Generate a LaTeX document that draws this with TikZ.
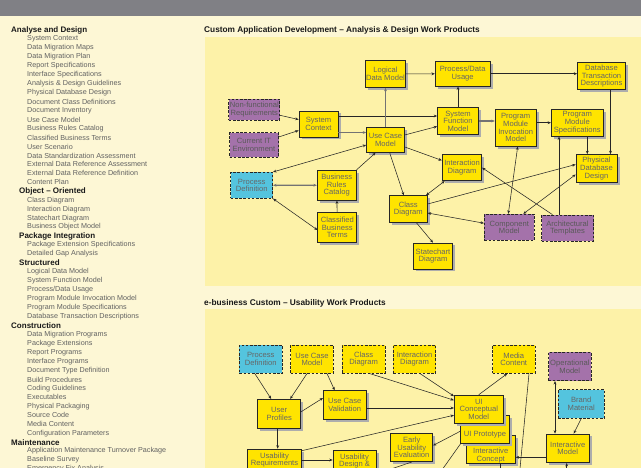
\documentclass[tikz,border=0pt]{standalone}
\usepackage{fontspec}
\setmainfont{Liberation Sans}
\usetikzlibrary{arrows.meta,shadows}

\definecolor{bargray}{RGB}{128,128,133}
\definecolor{pagecream}{RGB}{253,247,213}
\definecolor{panelyellow}{RGB}{253,242,168}
\definecolor{wpyellow}{RGB}{255,228,0}
\definecolor{wppurple}{RGB}{164,114,170}
\definecolor{wpcyan}{RGB}{84,196,222}

\tikzset{
  >={Stealth[length=3.4pt,width=2.8pt]},
  box/.style={draw=black!85, line width=0.7pt, align=center, text=black!60, inner sep=0.5pt,
              font=\fontsize{7.6}{7.6}\selectfont},
  wp/.style={box, fill=wpyellow, drop shadow={shadow xshift=2.5pt, shadow yshift=-2.5pt, fill=black!32, opacity=1}},
  extbox/.style={box, dash pattern=on 2.6pt off 1.6pt},
  extyellow/.style={extbox, fill=wpyellow},
  extpurple/.style={extbox, fill=wppurple, text=black!65},
  extcyan/.style={extbox, fill=wpcyan},
  link/.style={draw=black!85, line width=0.55pt},
  heavy/.style={draw=black!55, line width=1.3pt},
  listhead/.style={anchor=west, inner sep=0pt, font=\fontsize{8}{9}\selectfont\bfseries, text=black!90},
  listitem/.style={anchor=west, inner sep=0pt, font=\fontsize{7.2}{9}\selectfont, text=black!62},
  entry/.code={\ifnum#1=2 \pgfkeysalso{/tikz/listitem}\else\pgfkeysalso{/tikz/listhead}\fi},
  paneltitle/.style={anchor=west, inner sep=0pt, font=\fontsize{8.3}{9}\selectfont\bfseries, text=black!90},
}

\begin{document}
\begin{tikzpicture}[x=1pt,y=-1pt]
\useasboundingbox (0,0) rectangle (641,468);
\clip (0,0) rectangle (641,468);
\fill[pagecream] (0,0) rectangle (641,468); % page
\fill[bargray] (0,0) rectangle (641,16); % top bar
\fill[panelyellow] (205,37) rectangle (641,286.5); % panel 1
\fill[panelyellow] (205,309) rectangle (641,470); % panel 2

% work product list
\foreach \lvl/\txt [count=\n from 0] in {0/Analyse and Design, 2/System Context,
  2/Data Migration Maps, 2/Data Migration Plan, 2/Report Specifications,
  2/Interface Specifications, 2/Analysis \& Design Guidelines, 2/Physical Database Design,
  2/Document Class Definitions, 2/Document Inventory, 2/Use Case Model,
  2/Business Rules Catalog, 2/Classified Business Terms, 2/User Scenario,
  2/Data Standardization Assessment, 2/External Data Reference Assessment,
  2/External Data Reference Definition, 2/Content Plan, 1/Object -- Oriented,
  2/Class Diagram, 2/Interaction Diagram, 2/Statechart Diagram, 2/Business Object Model,
  1/Package Integration, 2/Package Extension Specifications, 2/Detailed Gap Analysis,
  1/Structured, 2/Logical Data Model, 2/System Function Model, 2/{Process/Data Usage},
  2/Program Module Invocation Model, 2/Program Module Specifications,
  2/Database Transaction Descriptions, 0/Construction, 2/Data Migration Programs,
  2/Package Extensions, 2/Report Programs, 2/Interface Programs,
  2/Document Type Definition, 2/Build Procedures, 2/Coding Guidelines, 2/Executables,
  2/Physical Packaging, 2/Source Code, 2/Media Content, 2/Configuration Parameters,
  0/Maintenance, 2/Application Maintenance Turnover Package, 2/Baseline Survey,
  2/Emergency Fix Analysis}
  \node[entry=\lvl] (lst\n) at ({11+8*\lvl},{30+8.96*\n}) {\txt};

% panel titles
\node[paneltitle] (ttlad) at (204,30) {Custom Application Development -- Analysis \& Design Work Products};
\node[paneltitle] (ttleb) at (204,303.3) {e-business Custom -- Usability Work Products};

% analysis & design work products
\node[wp,minimum width=40,minimum height=27] (ldm) at (385.5,74) {Logical\\Data Model};
\node[wp,minimum width=55,minimum height=25] (pdu) at (462.7,73.7) {Process/Data\\Usage};
\node[wp,minimum width=48,minimum height=27] (dtd) at (601.5,76.3) {Database\\Transaction\\Descriptions};
\node[extpurple,minimum width=51,minimum height=21] (nfr) at (254.3,109.5) {Non-functional\\Requirements};
\node[wp,minimum width=39,minimum height=26] (sc) at (318.5,124) {System\\Context};
\node[extpurple,minimum width=49,minimum height=24.5] (cit) at (254,145) {Current IT\\Environment};
\node[wp,minimum width=38,minimum height=25] (ucm) at (385.5,140) {Use Case\\Model};
\node[wp,minimum width=41,minimum height=27] (sfm) at (458,121) {System\\Function\\Model};
\node[wp,minimum width=41,minimum height=37] (pmim) at (515.7,127.7) {Program\\Module\\Invocation\\Model};
\node[wp,minimum width=52,minimum height=27] (pms) at (577.3,122.7) {Program\\Module\\Specifications};
\node[wp,minimum width=41,minimum height=28] (pdd) at (596.5,168.5) {Physical\\Database\\Design};
\node[wp,minimum width=39.5,minimum height=26] (intd) at (462,167.7) {Interaction\\Diagram};
\node[wp,minimum width=38,minimum height=26.5] (cd) at (408.3,209) {Class\\Diagram};
\node[extcyan,minimum width=42,minimum height=26] (pd) at (251.7,185.3) {Process\\Definition};
\node[wp,minimum width=39,minimum height=30] (brc) at (336.7,185.2) {Business\\Rules\\Catalog};
\node[wp,minimum width=39,minimum height=30] (cbt) at (337.3,227.5) {Classified\\Business\\Terms};
\node[wp,minimum width=39.5,minimum height=26] (std) at (433,256) {Statechart\\Diagram};
\node[extpurple,minimum width=50,minimum height=26] (cm) at (509.3,227.2) {Component\\Model};
\node[extpurple,minimum width=52,minimum height=26] (arct) at (567.5,228) {Architectural\\Templates};

\draw[link,->] (nfr) -- (sc);
\draw[link,->] (cit) -- (sc);
\draw[heavy,->] ([yshift=-8.5pt]sc.east) -- ([yshift=-8.5pt]sc.east -| ucm.west);
\draw[link,->] ([yshift=8pt]sc.east) -- ([yshift=8pt]sc.east -| sfm.west);
\draw[heavy,->] (ucm) -- (ldm);
\draw[link,->] (ldm) -- (pdu);
\draw[link,->] (pdu.east) -- (pdu.east -| dtd.west);
\draw[link,->] (sfm) -- (sfm |- pdu.south);
\draw[link,->] (ucm) -- (sfm);
\draw[heavy,->] (sfm.east) -- (sfm.east -| pmim.west);
\draw[link,->] (pms.west -| pmim.east) -- (pms.west);
\draw[link,->] ([xshift=10pt]pms.south) -- ([xshift=10pt]pms.south |- pdd.north);
\draw[link,->] ([xshift=9pt]dtd.south) -- ([xshift=9pt]dtd.south |- pdd.north);
\draw[link,->] (ucm) -- (intd);
\draw[link,->] (ucm) -- (cd);
\draw[link,<->] (intd) -- (cd);
\draw[link,->] ([yshift=5pt]cd.east) -- ([yshift=4pt]pdd.west);
\draw[link,<->] ([yshift=-4pt]cd.east) -- ([yshift=4pt]cm.west);
\draw[link,->] ([xshift=8pt]cd.south) -- (std.north);
\draw[link,<->] ([xshift=-1pt]cm.north) -- ([xshift=2pt]pmim.south);
\draw[link,<->] ([xshift=14pt]cm.north) -- ([yshift=-6pt]pdd.west);
\draw[link,->] ([xshift=-15pt]arct.north) -- (intd.east);
\draw[link,->] ([xshift=-8.5pt]arct.north) -- ([xshift=-8.5pt]arct.north |- pms.south);
\draw[link,<->] (pd.north east) -- ([yshift=-5pt]ucm.west);
\draw[heavy,<->] (pd) -- (brc);
\draw[link,<->] (pd.south east) -- ([yshift=-2.5pt]cbt.west);
\draw[link,->] (cbt) -- (brc);
\draw[link,->] (brc.north east) -- ([xshift=-10pt]ucm.south);

% usability work products
\node[extcyan,minimum width=43,minimum height=28] (pd2) at (260.8,359.2) {Process\\Definition};
\node[extyellow,minimum width=42.7,minimum height=28] (ucm2) at (312,359.2) {Use Case\\Model};
\node[extyellow,minimum width=42.7,minimum height=28] (cd2) at (363.7,359.2) {Class\\Diagram};
\node[extyellow,minimum width=42.4,minimum height=28] (intd2) at (414.5,359.2) {Interaction\\Diagram};
\node[extyellow,minimum width=42.3,minimum height=28] (mc) at (513.8,359.2) {Media\\Content};
\node[extpurple,minimum width=42.3,minimum height=28.4] (om) at (569.8,366.5) {Operational\\Model};
\node[extcyan,minimum width=46.3,minimum height=28.6] (bm) at (581.2,404) {Brand\\Material};
\node[wp,minimum width=43,minimum height=29] (up) at (279.2,413.8) {User\\Profiles};
\node[wp,minimum width=42.7,minimum height=28.6] (ucv) at (344.7,405) {Use Case\\Validation};
\node[wp,minimum width=49.3,minimum height=28,text height=22.6pt,text depth=0pt] (ic) at (490.7,449.7) {Interactive\\Concept};
\node[wp,minimum width=48.6,minimum height=28,text height=14pt,text depth=0pt] (uip) at (485,429.7) {UI Prototype};
\node[wp,minimum width=49,minimum height=28.3] (uicm) at (478.8,409.2) {UI\\Conceptual\\Model};
\node[wp,minimum width=42.7,minimum height=28.7] (im) at (567.7,448.3) {Interactive\\Model};
\node[wp,minimum width=42,minimum height=28.4] (eue) at (411.7,447.5) {Early\\Usability\\Evaluation};
\node[wp,minimum width=54.4,minimum height=22] (ur) at (274.5,460) {Usability\\Requirements};
\node[wp,minimum width=43,minimum height=22] (ud) at (354.5,461) {Usability\\Design \&};

\coordinate (mcout) at (519.3,476);
\coordinate (uipout) at (437.7,476);
\coordinate (icout) at (500,476);
\coordinate (euein) at (370,476);
\coordinate (imin) at (566.7,476);

\draw[link,->] ([xshift=-6pt]pd2.south) -- ([xshift=-8pt]up.north);
\draw[link,->] ([xshift=-5pt]ucm2.south) -- ([xshift=11pt]up.north);
\draw[link,->] ([xshift=15pt]ucm2.south) -- ([xshift=-10pt]ucv.north);
\draw[link,->] ([yshift=2pt]up.east) -- ([yshift=7pt]ucv.west);
\draw[link,->] ([xshift=-1.5pt]up.south) -- ([xshift=-1.5pt]up.south |- ur.north);
\draw[link,->] ([yshift=-3pt]ucv.east) -- ([yshift=-3pt]ucv.east -| uicm.west);
\draw[link,->] ([xshift=6pt]cd2.south) -- ([yshift=9pt]uicm.west);
\draw[link,->] ([xshift=5.5pt]intd2.south) -- ([yshift=13pt]uicm.west);
\draw[link,->] ([yshift=-2pt]ur.north east) -- ([yshift=-6pt]uicm.west);
\draw[link,->] (uicm.north) -- ([xshift=-6.5pt]mc.south);
\draw[link,->] (ur.east) -- (ur.east -| ud.west);
\draw[link,->] ([yshift=-1.5pt]uip.west) -- ([yshift=2pt]eue.east);
\draw[link,->] ([yshift=-9pt]im.west) -- ([yshift=-9pt]im.west -| ic.east);
\draw[link,<->] ([xshift=-14.8pt]om.south) -- ([xshift=-14.8pt]om.south |- im.north);
\draw[link,->] (bm.south) -- ([xshift=6pt]im.north);
\draw[link] ([xshift=15.2pt]mc.south) -- (mcout);
\draw[link] (uip.south west) -- (uipout);
\draw[link] ([xshift=9.3pt]ic.south) -- (icout);
\draw[link] (euein) -- (eue.south);
\draw[link,->] (imin) -- ([xshift=-1pt]im.south);
\end{tikzpicture}
\end{document}
